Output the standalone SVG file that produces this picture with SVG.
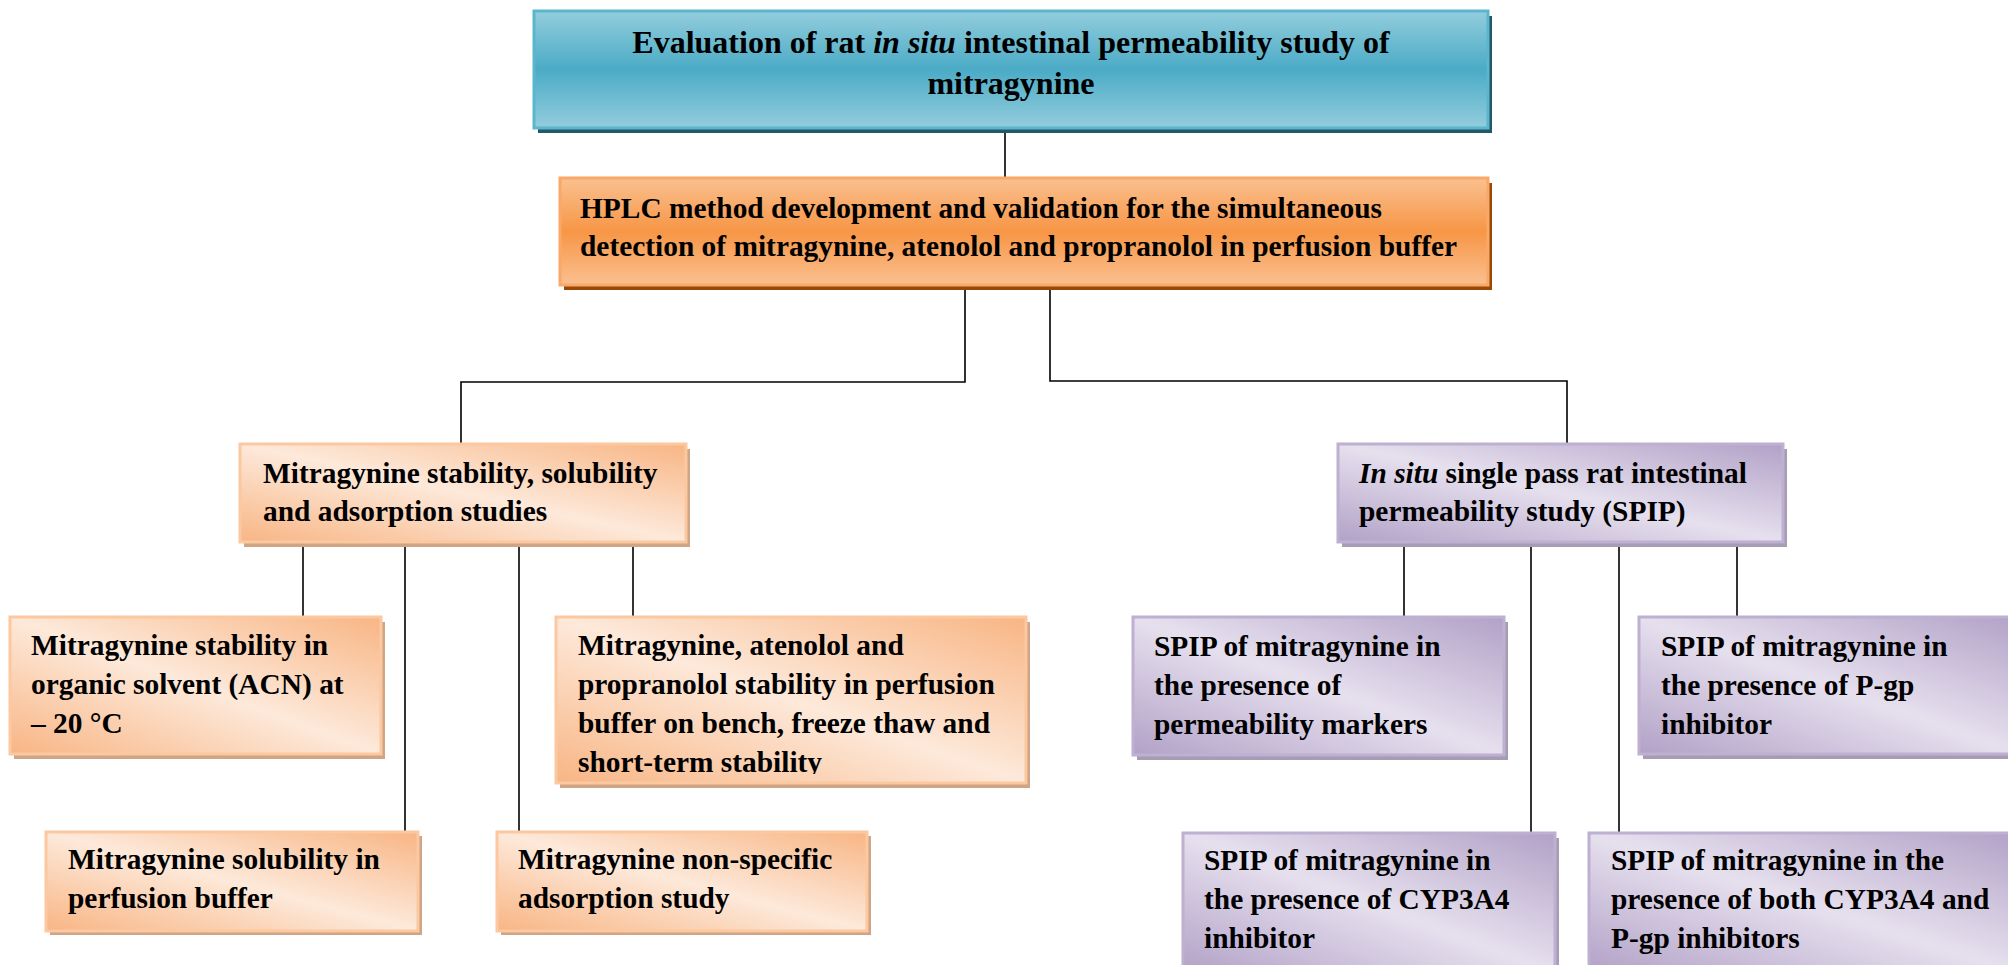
<svg xmlns="http://www.w3.org/2000/svg" width="2008" height="965" viewBox="0 0 2008 965">
<defs>
<linearGradient id="gTeal" x1="0" y1="0" x2="0" y2="1">
<stop offset="0" stop-color="#93cddd"/><stop offset="0.5" stop-color="#4babc6"/><stop offset="1" stop-color="#93cddd"/>
</linearGradient>
<linearGradient id="gOrange" x1="0" y1="0" x2="0" y2="1">
<stop offset="0" stop-color="#fac090"/><stop offset="0.5" stop-color="#f79646"/><stop offset="1" stop-color="#fac090"/>
</linearGradient>
<linearGradient id="gPeach" x1="0" y1="1" x2="1" y2="0">
<stop offset="0" stop-color="#f8b584"/><stop offset="0.5" stop-color="#fde9da"/><stop offset="1" stop-color="#f8b584"/>
</linearGradient>
<linearGradient id="gLilac" x1="0" y1="1" x2="1" y2="0">
<stop offset="0" stop-color="#b2a1c7"/><stop offset="0.5" stop-color="#e6e0ee"/><stop offset="1" stop-color="#b2a1c7"/>
</linearGradient>
<clipPath id="clipB"><rect x="556" y="617" width="470" height="157"/></clipPath>
<style>
text{font-family:"Liberation Serif","Times New Roman",serif;font-weight:bold;font-size:29.4px;fill:#000}
.title{font-size:32px}
.it{font-style:italic}
.conn{fill:none;stroke:#000;stroke-width:1.6}
.shTeal{fill:#215968}
.shOrange{fill:#984807}
.shPeach{fill:#cfa585}
.shLilac{fill:#a69cb4}
.bTeal{fill:url(#gTeal);stroke:#5bb5cd;stroke-width:3}
.bOrange{fill:url(#gOrange);stroke:#f9a868;stroke-width:3}
.bPeach{fill:url(#gPeach);stroke:#fbc8a0;stroke-width:3}
.bLilac{fill:url(#gLilac);stroke:#bdb0d0;stroke-width:3}
</style>
</defs>
<rect width="2008" height="965" fill="#fff"/>
<g id="connectors">
<path class="conn" d="M1005 128 V178"/>
<path class="conn" d="M965 285 V382 H461 V444"/>
<path class="conn" d="M1050 285 V381 H1567 V444"/>
<path class="conn" d="M303 542 V617"/>
<path class="conn" d="M405 542 V832"/>
<path class="conn" d="M519 542 V832"/>
<path class="conn" d="M633 542 V617"/>
<path class="conn" d="M1404 542 V617"/>
<path class="conn" d="M1531 542 V833"/>
<path class="conn" d="M1619 542 V833"/>
<path class="conn" d="M1737 542 V617"/>
</g>
<g id="n-title">
<rect class="shTeal" x="538" y="16" width="954" height="117"/>
<rect class="bTeal" x="534" y="11" width="954" height="117"/>
<text class="title" x="1011" y="53" text-anchor="middle">Evaluation of rat <tspan class="it">in situ</tspan> intestinal permeability study of</text>
<text class="title" x="1011" y="94" text-anchor="middle">mitragynine</text>
</g>
<g id="n-hplc">
<rect class="shOrange" x="564" y="183" width="928" height="107"/>
<rect class="bOrange" x="560" y="178" width="928" height="107"/>
<text x="580" y="218">HPLC method development and validation for the simultaneous</text>
<text x="580" y="256">detection of mitragynine, atenolol and propranolol in perfusion buffer</text>
</g>
<g id="n-stability">
<rect class="shPeach" x="244" y="449" width="446" height="98"/>
<rect class="bPeach" x="240" y="444" width="446" height="98"/>
<text x="263" y="483">Mitragynine stability, solubility</text>
<text x="263" y="521">and adsorption studies</text>
</g>
<g id="n-spip">
<rect class="shLilac" x="1342" y="449" width="445" height="98"/>
<rect class="bLilac" x="1338" y="444" width="445" height="98"/>
<text x="1359" y="483"><tspan class="it">In situ</tspan> single pass rat intestinal</text>
<text x="1359" y="521">permeability study (SPIP)</text>
</g>
<g id="n-organic">
<rect class="shPeach" x="14" y="622" width="371" height="137"/>
<rect class="bPeach" x="10" y="617" width="371" height="137"/>
<text x="31" y="655">Mitragynine stability in</text>
<text x="31" y="694">organic solvent (ACN) at</text>
<text x="31" y="733">– 20 °C</text>
</g>
<g id="n-buffer-stability">
<rect class="shPeach" x="560" y="622" width="470" height="166"/>
<rect class="bPeach" x="556" y="617" width="470" height="166"/>
<text x="578" y="655">Mitragynine, atenolol and</text>
<text x="578" y="694">propranolol stability in perfusion</text>
<text x="578" y="733">buffer on bench, freeze thaw and</text>
<text x="578" y="772" clip-path="url(#clipB)">short-term stability</text>
</g>
<g id="n-solubility">
<rect class="shPeach" x="50" y="836" width="372" height="99"/>
<rect class="bPeach" x="46" y="832" width="372" height="99"/>
<text x="68" y="869">Mitragynine solubility in</text>
<text x="68" y="908">perfusion buffer</text>
</g>
<g id="n-adsorption">
<rect class="shPeach" x="501" y="836" width="370" height="99"/>
<rect class="bPeach" x="497" y="832" width="370" height="99"/>
<text x="518" y="869">Mitragynine non-specific</text>
<text x="518" y="908">adsorption study</text>
</g>
<g id="n-markers">
<rect class="shLilac" x="1137" y="622" width="371" height="138"/>
<rect class="bLilac" x="1133" y="617" width="371" height="138"/>
<text x="1154" y="656">SPIP of mitragynine in</text>
<text x="1154" y="695">the presence of</text>
<text x="1154" y="734">permeability markers</text>
</g>
<g id="n-pgp">
<rect class="shLilac" x="1643" y="622" width="380" height="137"/>
<rect class="bLilac" x="1639" y="617" width="380" height="137"/>
<text x="1661" y="656">SPIP of mitragynine in</text>
<text x="1661" y="695">the presence of P-gp</text>
<text x="1661" y="734">inhibitor</text>
</g>
<g id="n-cyp">
<rect class="shLilac" x="1187" y="838" width="372" height="140"/>
<rect class="bLilac" x="1183" y="833" width="372" height="140"/>
<text x="1204" y="870">SPIP of mitragynine in</text>
<text x="1204" y="909">the presence of CYP3A4</text>
<text x="1204" y="948">inhibitor</text>
</g>
<g id="n-both">
<rect class="shLilac" x="1593" y="838" width="430" height="140"/>
<rect class="bLilac" x="1589" y="833" width="430" height="140"/>
<text x="1611" y="870">SPIP of mitragynine in the</text>
<text x="1611" y="909">presence of both CYP3A4 and</text>
<text x="1611" y="948">P-gp inhibitors</text>
</g>
</svg>
